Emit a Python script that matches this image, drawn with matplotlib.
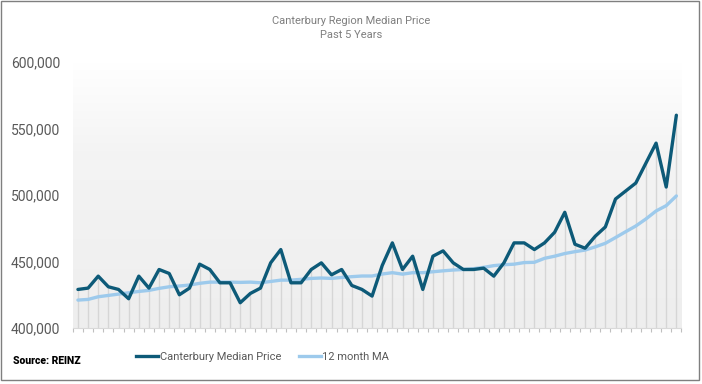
import numpy as np
import matplotlib.pyplot as plt
from matplotlib.lines import Line2D
from matplotlib.patches import Rectangle

plt.rcParams['font.family'] = ['Roboto', 'DejaVu Sans']

# monthly median price, Canterbury region (past 5 years)
median_price = [
    429000, 430000, 439000, 431000, 429000, 422000, 439000, 430000, 444000, 441000,
    425000, 430000, 448000, 444000, 434000, 434000, 419000, 426000, 430000, 449000,
    459000, 434000, 434000, 444000, 449000, 440000, 444000, 432000, 429000, 424000,
    447000, 464000, 444000, 454000, 429000, 454000, 458000, 449000, 444000, 444000,
    445000, 439000, 449000, 464000, 464000, 459000, 464000, 472000, 487000, 463000,
    460000, 469000, 476000, 497000, 503000, 509000, 524000, 539000, 506000, 560000,
]
moving_avg = [
    421000, 421500, 423500, 424500, 425500, 426500, 427500, 428300, 429800, 431000,
    431600, 432300, 433600, 434500, 434500, 434500, 434300, 434500, 434000, 435000,
    436000, 436000, 436600, 437300, 437600, 437300, 438000, 438600, 439100, 439100,
    440600, 441600, 440500, 441600, 441600, 442300, 443000, 443600, 444000, 444600,
    445600, 446900, 447600, 448000, 449200, 449400, 452400, 454000, 456000, 457400,
    458600, 461000, 463700, 468000, 472400, 476700, 482000, 488000, 492000, 499300,
]
y_ticks = [400000, 450000, 500000, 550000, 600000]

dark = '#0d5a78'
light = '#9dcaec'
grey_txt = '#595959'

fig = plt.figure(figsize=(7.02, 3.84), dpi=100)
ax = fig.add_axes([0.1038, 0.1458, 0.8669, 0.6927])

x = np.arange(len(median_price))
ymin, ymax = y_ticks[0], y_ticks[-1]

# gradient plot background
grad = np.linspace(0, 1, 256).reshape(-1, 1)
cmap = plt.matplotlib.colors.LinearSegmentedColormap.from_list(
    'g', ['#ffffff', '#f4f4f4', '#f1f1f1', '#eeeeee'])
ax.imshow(grad, extent=[-0.5, len(x) - 0.5, ymin, ymax], aspect='auto',
          cmap=cmap, origin='upper', zorder=0)

# drop lines
ax.vlines(x, ymin, median_price, color='#d6d6d6', lw=1, zorder=1)

ax.plot(x, moving_avg, color=light, lw=2.4, zorder=2, solid_capstyle='round')
ax.plot(x, median_price, color=dark, lw=2.4, zorder=3, solid_capstyle='round')

ax.set_xlim(-0.5, len(x) - 0.5)
ax.set_ylim(ymin, ymax)
ax.set_yticks(y_ticks)
ax.set_yticklabels([f'{v:,}' for v in y_ticks], color=grey_txt, fontsize=10)
ax.tick_params(axis='y', length=0, pad=9)
ax.set_xticks(np.arange(-0.5, len(x), 1))
ax.set_xticklabels([])
ax.tick_params(axis='x', length=3, color='#bfbfbf', width=0.8)
for s in ['top', 'right', 'left']:
    ax.spines[s].set_visible(False)
ax.spines['bottom'].set_color('#d9d9d9')

fig.text(0.5, 0.945, 'Canterbury Region Median Price', ha='center', va='center',
         fontsize=8, color='#7f7f7f')
fig.text(0.5, 0.908, 'Past 5 Years', ha='center', va='center',
         fontsize=8, color='#7f7f7f')

handles = [Line2D([], [], color=dark, lw=2.4), Line2D([], [], color=light, lw=2.4)]
fig.legend(handles, ['Canterbury Median Price', '12 month MA'], ncol=2,
           loc='center', bbox_to_anchor=(0.374, 0.070), frameon=False,
           fontsize=8, labelcolor=grey_txt, handlelength=2.0,
           handletextpad=0.1, columnspacing=1.6)

fig.text(0.019, 0.060, 'Source: REINZ', ha='left', va='center',
         fontsize=7.5, fontweight='heavy', color='black')

fig.patches.append(Rectangle((1 / 702, 4 / 384), 698 / 702, 379 / 384,
                             transform=fig.transFigure, fill=False,
                             edgecolor='#7f7f7f', lw=1))

fig.savefig('out.png', dpi=100)
